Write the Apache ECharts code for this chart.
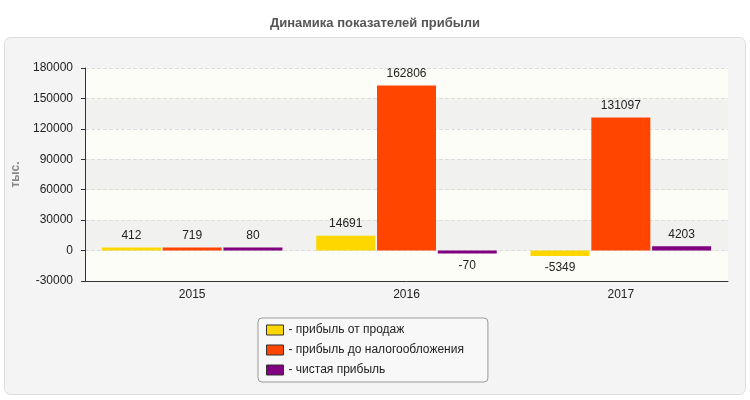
<!DOCTYPE html>
<html><head><meta charset="utf-8">
<script src="https://cdn.jsdelivr.net/npm/echarts@6/dist/echarts.min.js"></script>
<style>html,body{margin:0;padding:0;background:#fff}#echarts{width:750px;height:400px}</style>
</head><body><div id="echarts"></div>
<script>
var years = ['2015', '2016', '2017'];
var salesProfit = [412, 14691, -5349];
var preTaxProfit = [719, 162806, 131097];
var netProfit = [80, -70, 4203];
var yTicks = [-30000, 180000, 30000]; // min, max, interval

var chart = echarts.init(document.getElementById('echarts'));
function barSeries(name, data, color) {
    return {
        name: name, type: 'bar', barWidth: 59, barGap: '3%', barMinHeight: 3,
        data: data.map(function (v) {
            return { value: v, label: { position: v < 0 ? 'bottom' : 'top' } };
        }),
        itemStyle: { color: color },
        label: { show: true, distance: 6, color: '#222', fontSize: 12 }
    };
}
var option = {
    animation: false,
    textStyle: { fontFamily: 'Arial, Liberation Sans, sans-serif' },
    title: {
        text: 'Динамика показателей прибыли', left: 'center', top: 12,
        textStyle: { fontSize: 13, fontWeight: 'bold', color: '#555' }
    },
    graphic: [{
        type: 'rect', left: 4, top: 37, z: -10,
        shape: { width: 741, height: 357, r: 6 },
        style: { fill: '#f4f4f4', stroke: '#dddddd' }
    }],
    grid: { left: 85, right: 22, top: 68, bottom: 119 },
    legend: {
        orient: 'vertical', left: 258, top: 318,
        itemWidth: 17, itemHeight: 10, itemGap: 8,
        padding: [6, 24, 6, 8],
        backgroundColor: '#f8f8f8', borderColor: '#999', borderWidth: 1, borderRadius: 4,
        icon: 'rect',
        itemStyle: { borderColor: '#333', borderWidth: 1 },
        formatter: '- {name}',
        textStyle: { fontSize: 12, color: '#222' }
    },
    xAxis: {
        type: 'category', data: years,
        axisLine: { onZero: false, lineStyle: { color: '#333' } },
        axisTick: { show: false },
        axisLabel: { color: '#222', fontSize: 12 }
    },
    yAxis: {
        type: 'value', min: yTicks[0], max: yTicks[1], interval: yTicks[2],
        name: 'тыс.', nameLocation: 'middle', nameGap: 60, nameRotate: 90,
        nameTextStyle: { color: '#888', fontWeight: 'bold', fontSize: 12 },
        axisLine: { show: true, lineStyle: { color: '#333' } },
        axisTick: { show: true, length: 4 },
        axisLabel: { color: '#222', fontSize: 12, margin: 12, formatter: function (v) { return String(v); } },
        splitLine: { lineStyle: { color: '#dcdcdc', type: 'dashed' } },
        splitArea: { show: true, areaStyle: { color: ['#fdfdf8', '#f1f1f0'] } }
    },
    series: [
        barSeries('прибыль от продаж', salesProfit, '#FFD700'),
        barSeries('прибыль до налогообложения', preTaxProfit, '#FF4500'),
        barSeries('чистая прибыль', netProfit, '#800080')
    ]
};
chart.setOption(option);
</script></body></html>
